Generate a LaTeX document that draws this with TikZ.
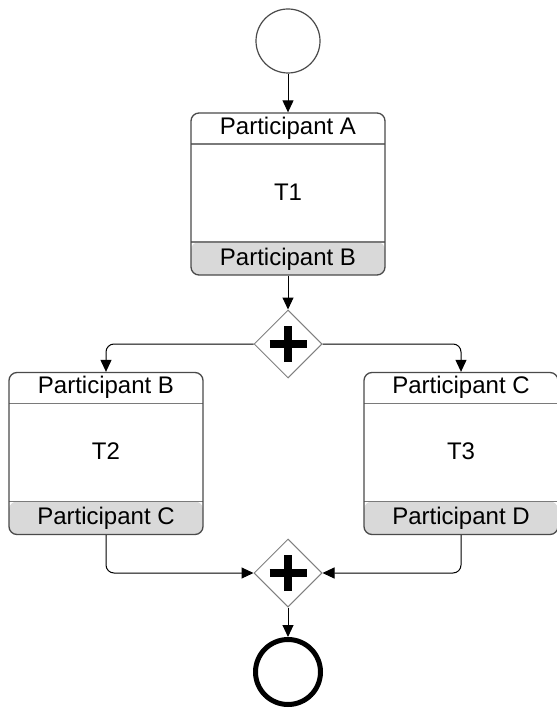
\documentclass[tikz,border=0pt]{standalone}
\usepackage{fontspec}
\setmainfont{Liberation Sans}
\usetikzlibrary{shapes.geometric,arrows.meta}

\definecolor{boxline}{HTML}{4A4A4A}
\definecolor{sepline}{HTML}{7A7A7A}
\definecolor{footfill}{HTML}{D9D9D9}
\definecolor{gateline}{HTML}{808080}

\tikzset{
  label font/.style={font=\fontsize{24}{28}\selectfont, inner sep=0pt},
  task/.style={
    draw=boxline, line width=1.3pt, fill=white, rounded corners=8pt,
    minimum width=194pt, minimum height=162pt, inner sep=0pt,
    path picture={
      \fill[footfill] ([yshift=33pt]path picture bounding box.south west)
        rectangle (path picture bounding box.south east);
      \draw[sepline, line width=1.2pt]
        ([yshift=-31pt]path picture bounding box.north west) --
        ([yshift=-31pt]path picture bounding box.north east);
      \draw[sepline, line width=1.2pt]
        ([yshift=33pt]path picture bounding box.south west) --
        ([yshift=33pt]path picture bounding box.south east);
    }},
  gateway/.style={
    draw=gateline, line width=1pt, fill=white, shape=diamond, aspect=1,
    minimum size=68pt, inner sep=0pt,
    path picture={
      \draw[black, line width=8pt]
        ([xshift=-18.5pt]path picture bounding box.center) --
        ([xshift=18.5pt]path picture bounding box.center);
      \draw[black, line width=8pt]
        ([yshift=-18pt]path picture bounding box.center) --
        ([yshift=18pt]path picture bounding box.center);
    }},
  startev/.style={draw=boxline, line width=1.2pt, circle, minimum size=64pt, inner sep=0pt},
  endev/.style={draw=black, line width=5pt, circle, minimum size=65pt, inner sep=0pt},
  flow/.style={draw=black, line width=1pt, rounded corners=8pt,
    -{Triangle[length=12pt,width=11pt]}},
}

% \tasknode{name}{x}{y}{top participant}{task}{bottom participant}
\newcommand{\tasknode}[6]{%
  \node[task] (#1) at (#2,#3) {};
  \node[label font] (#1-top) at ([yshift=-15.5pt]#1.north) {#4};
  \node[label font] (#1-name) at ([yshift=2pt]#1.center) {#5};
  \node[label font] (#1-bot) at ([yshift=16.5pt]#1.south) {#6};
}

\begin{document}
\begin{tikzpicture}[x=1pt,y=-1pt]
  \useasboundingbox (0,0) rectangle (556,708);

  \node[startev] (start) at (288,41) {};

  \tasknode{t1}{288}{194}{Participant A}{T1}{Participant B}
  \tasknode{t2}{106}{453.5}{Participant B}{T2}{Participant C}
  \tasknode{t3}{461}{453.5}{Participant C}{T3}{Participant D}

  \node[gateway] (split) at (288,344) {};
  \node[gateway] (join) at (288,573) {};

  \node[endev] (end) at (288,672) {};

  \draw[flow] (start) -- (t1);
  \draw[flow] (t1) -- (split);
  \draw[flow] (split.west) -| (t2.north);
  \draw[flow] (split.east) -| (t3.north);
  \draw[flow] (t2.south) |- (join.west);
  \draw[flow] (t3.south) |- (join.east);
  \draw[flow] (join) -- (end);
\end{tikzpicture}
\end{document}
